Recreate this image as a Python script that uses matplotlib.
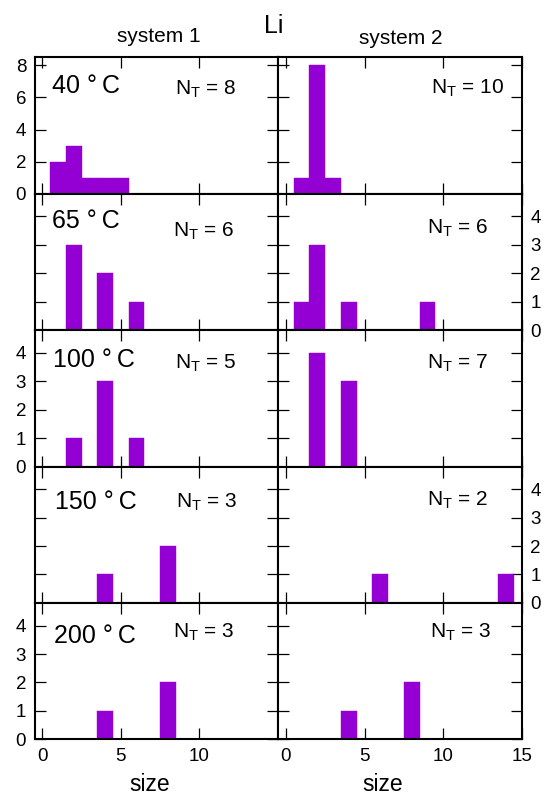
import matplotlib
matplotlib.use("Agg")
import matplotlib.pyplot as plt

plt.rcParams['font.family'] = ['Liberation Sans', 'DejaVu Sans']
plt.rcParams['mathtext.fontset'] = 'custom'
plt.rcParams['mathtext.rm'] = 'Liberation Sans'
plt.rcParams['mathtext.it'] = 'Liberation Sans'

# Cluster-size histograms of Li, one row per temperature
temperatures = ["40", "65", "100", "150", "200"]

sys1_sizes = [[1, 2, 3, 4, 5], [2, 4, 6], [2, 4, 6], [4, 8], [4, 8]]
sys1_counts = [[2, 3, 1, 1, 1], [3, 2, 1], [1, 3, 1], [1, 2], [1, 2]]
sys1_total = [8, 6, 5, 3, 3]

sys2_sizes = [[1, 2, 3], [1, 2, 4, 9], [2, 4], [6, 14], [4, 8]]
sys2_counts = [[1, 8, 1], [1, 3, 1, 1], [4, 3], [1, 1], [1, 2]]
sys2_total = [10, 6, 7, 2, 3]

x_ticks = [0, 5, 10, 15]
x_ticklabels_left = ["0", "5", "10", ""]
x_ticklabels_right = ["0", "5", "10", "15"]
row_yticks = [[0, 2, 4, 6, 8], [0, 1, 2, 3, 4], [0, 1, 2, 3, 4],
              [0, 1, 2, 3, 4], [0, 1, 2, 3, 4]]
row_ytop = [8.5, 4.8, 4.8, 4.8, 4.8]

bar_color = '#9400d3'

W, H = 547, 796
fig = plt.figure(figsize=(W / 100, H / 100), dpi=100)

left_px, mid_px, right_px = 34.5, 278.0, 522.0
top_px, bottom_px = 57.3, 739.3
row_h = (bottom_px - top_px) / 5

# label placement in axes fraction: (x, baseline y)
temp_pos = [(0.072, 0.736), (0.071, 0.745), (0.075, 0.732), (0.084, 0.690), (0.081, 0.708)]
nt_pos_left = [(0.577, 0.724), (0.567, 0.683), (0.577, 0.716), (0.581, 0.697), (0.570, 0.742)]
nt_pos_right = [(0.627, 0.731), (0.609, 0.708), (0.609, 0.716), (0.609, 0.709), (0.623, 0.742)]

for r in range(5):
    y0 = 1 - (top_px + (r + 1) * row_h) / H
    for c in range(2):
        x0 = (left_px if c == 0 else mid_px) / W
        w = (mid_px - left_px if c == 0 else right_px - mid_px) / W
        ax = fig.add_axes([x0, y0, w, row_h / H])
        sizes = sys1_sizes[r] if c == 0 else sys2_sizes[r]
        counts = sys1_counts[r] if c == 0 else sys2_counts[r]
        total = sys1_total[r] if c == 0 else sys2_total[r]
        ax.bar(sizes, counts, width=1.0, color=bar_color,
               edgecolor=bar_color, linewidth=0.3, zorder=2)
        ax.set_xlim(-0.5, 15)
        ax.set_ylim(0, row_ytop[r])
        ax.set_xticks(x_ticks)
        ax.set_xticklabels(x_ticklabels_left if c == 0 else x_ticklabels_right)
        ax.set_yticks(row_yticks[r])
        for s in ax.spines.values():
            s.set_linewidth(1.5)
            s.set_zorder(3)
        ax.tick_params(axis='both', which='both', direction='in', length=8,
                       width=0.9, top=True, bottom=True, left=True, right=True,
                       labelsize=13.5, pad=6)
        show_x = (r == 4)
        ax.tick_params(axis='x', labelbottom=show_x, labeltop=False)
        if c == 0:
            lab = (r % 2 == 0)
            ax.tick_params(axis='y', labelleft=lab, labelright=False)
        else:
            lab = (r % 2 == 1)
            ax.tick_params(axis='y', labelleft=False, labelright=lab)
        if c == 0:
            tx, ty = temp_pos[r]
            ax.text(tx, ty, temperatures[r] + " °\u2009C", transform=ax.transAxes,
                    fontsize=18, ha='left', va='baseline')
            nx, ny = nt_pos_left[r]
        else:
            nx, ny = nt_pos_right[r]
        ax.text(nx, ny, r"$\mathrm{N_T}$ = %d" % total, transform=ax.transAxes,
                fontsize=15, ha='left', va='baseline')

fig.text(159 / W, 1 - 41.7 / H, "system 1", fontsize=15, ha='center', va='baseline')
fig.text(400.5 / W, 1 - 44.3 / H, "system 2", fontsize=15, ha='center', va='baseline')
fig.text(274 / W, 1 - 33.3 / H, "Li", fontsize=18, ha='center', va='baseline')
fig.text(149.7 / W, 1 - 791 / H, "size", fontsize=16.5, ha='center', va='baseline')
fig.text(383 / W, 1 - 791 / H, "size", fontsize=16.5, ha='center', va='baseline')

fig.savefig("out.png", dpi=100)
